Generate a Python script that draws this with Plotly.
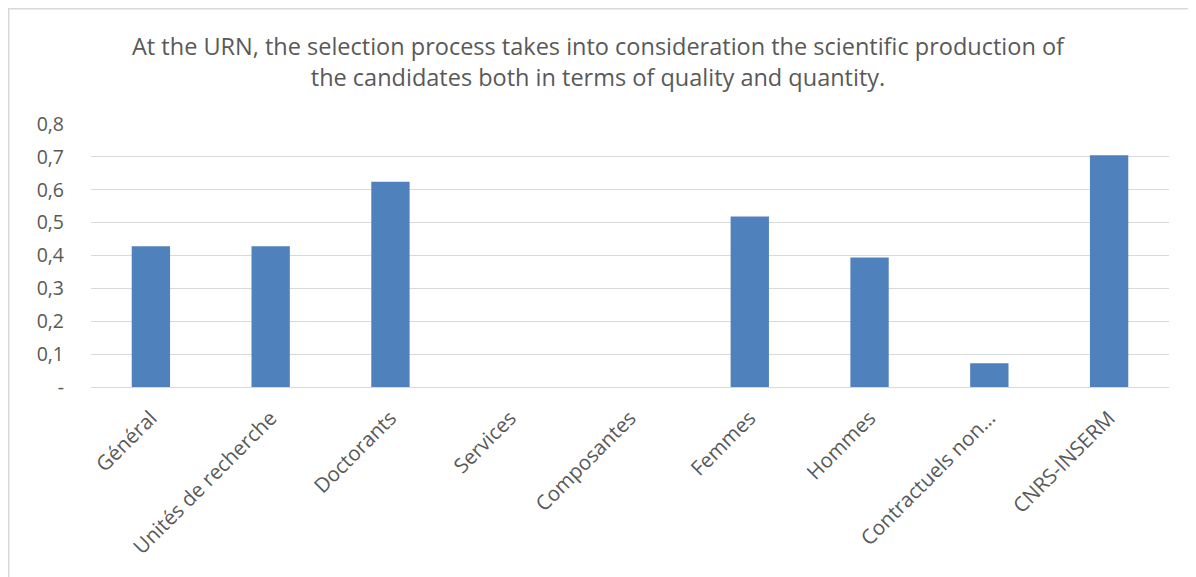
import plotly.graph_objects as go

categories = ["Général", "Unités de recherche", "Doctorants", "Services", "Composantes",
              "Femmes", "Hommes", "Contractuels non…", "CNRS-INSERM"]
values = [0.428, 0.428, 0.624, 0, 0, 0.519, 0.394, 0.072, 0.705]
y_tickvals = [0, 0.1, 0.2, 0.3, 0.4, 0.5, 0.6, 0.7, 0.8]
y_ticktext = ["-", "0,1", "0,2", "0,3", "0,4", "0,5", "0,6", "0,7", "0,8"]
title_text = ("At the URN, the selection process takes into consideration the scientific production of"
              "<br>the candidates both in terms of quality and quantity.")

FONT = "Open Sans"
GRAY = "#595959"

fig = go.Figure(go.Bar(
    x=categories, y=values,
    marker=dict(color="#4F81BD", line=dict(width=0)),
))

# page body has an 8px offset; margins compensate so the plot lands where the reference has it
OFF = 8
W, H = 1196, 577
L, T = 91 - OFF, 124 - OFF
R = (W + OFF) - 1169
B = (H + OFF) - 387
pw, ph = W - L - R, H - T - B

def px_x(p):
    return (p - L) / pw

def px_y(p):
    return (H - B - p) / ph

fig.update_layout(
    width=W, height=H,
    margin=dict(l=L, r=R, t=T, b=B),
    paper_bgcolor="white", plot_bgcolor="white",
    bargap=0.68,
    showlegend=False,
    title=dict(text=title_text, x=(598 - OFF) / W, xanchor="center", xref="container",
               y=1 - (55 - OFF) / H, yanchor="middle", yref="container",
               font=dict(family=FONT, size=23.5, color=GRAY)),
    font=dict(family=FONT, color=GRAY),
    xaxis=dict(tickangle=-45, tickfont=dict(size=20.5, color=GRAY, family=FONT),
               showgrid=False, showline=True, linecolor="#d9d9d9", linewidth=1,
               ticks="", automargin=False, ticklabelstandoff=10),
    yaxis=dict(range=[0, 0.8], tickvals=y_tickvals, ticktext=y_ticktext,
               tickfont=dict(size=19.5, color=GRAY, family=FONT),
               showgrid=True, gridcolor="#d9d9d9", gridwidth=1,
               zeroline=True, zerolinecolor="#d9d9d9", zerolinewidth=1,
               showline=False, ticks="", ticklabelstandoff=26, automargin=False),
    shapes=[dict(type="rect", xref="paper", yref="paper",
                 x0=px_x(0.75), x1=px_x(W + 20), y0=px_y(H + 20), y1=px_y(0.75),
                 line=dict(color="#d9d9d9", width=1.5), fillcolor="rgba(0,0,0,0)",
                 layer="below")],
)

fig.write_html("out.html")
